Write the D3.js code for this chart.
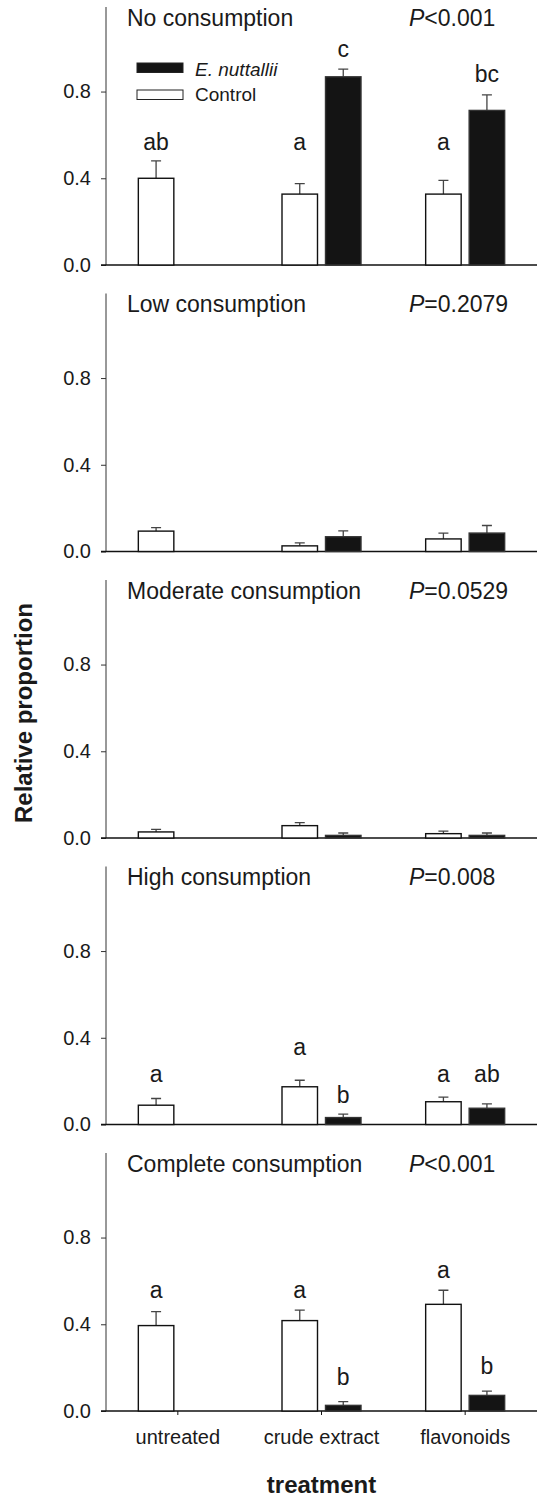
<!DOCTYPE html>
<html>
<head>
<meta charset="utf-8">
<script src="https://cdn.jsdelivr.net/npm/d3@7"></script>
<style>
  body { margin: 0; background: #fff; }
  svg text { font-family: 'Liberation Sans', Arial, sans-serif; fill: #1a1a1a; }
</style>
</head>
<body>
<svg id="chart" width="537" height="1499"></svg>
<script>
const categories = ['untreated', 'crude extract', 'flavonoids'];
const groups = ['Control', 'E. nuttallii'];
const panelTitles = ['No consumption', 'Low consumption', 'Moderate consumption', 'High consumption', 'Complete consumption'];
const pSigns = ['<', '=', '=', '=', '<'];
const pValues = ['0.001', '0.2079', '0.0529', '0.008', '0.001'];
const yTicks = [0, 0.4, 0.8];

// means and upper standard errors, one row per panel
const controlMean = [
  [0.40, 0.327, 0.327],
  [0.094, 0.026, 0.058],
  [0.028, 0.057, 0.020],
  [0.089, 0.174, 0.105],
  [0.394, 0.417, 0.492]
];
const controlErr = [
  [0.080, 0.048, 0.063],
  [0.016, 0.014, 0.027],
  [0.012, 0.014, 0.012],
  [0.031, 0.030, 0.021],
  [0.064, 0.048, 0.065]
];
const nuttalliiMean = [
  [null, 0.868, 0.713],
  [null, 0.068, 0.085],
  [null, 0.012, 0.012],
  [null, 0.032, 0.075],
  [null, 0.026, 0.072]
];
const nuttalliiErr = [
  [null, 0.035, 0.072],
  [null, 0.027, 0.035],
  [null, 0.011, 0.011],
  [null, 0.016, 0.020],
  [null, 0.017, 0.020]
];

// significance letters and the value level they sit at
const controlLetters = [['ab', 'a', 'a'], [null, null, null], [null, null, null], ['a', 'a', 'a'], ['a', 'a', 'a']];
const controlLetterAt = [[0.53, 0.53, 0.53], [0, 0, 0], [0, 0, 0], [0.196, 0.32, 0.196], [0.521, 0.521, 0.615]];
const nuttalliiLetters = [[null, 'c', 'bc'], [null, null, null], [null, null, null], [null, 'b', 'ab'], [null, 'b', 'b']];
const nuttalliiLetterAt = [[0, 0.961, 0.845], [0, 0, 0], [0, 0, 0], [0, 0.098, 0.196], [0, 0.12, 0.171]];

const svg = d3.select('#chart');
const axisX = 106;
const panelHeight = 258;
const panelStep = 286.5;
const firstTop = 7;

const x = d3.scaleBand().domain(categories).range([axisX, 537]);
const xSub = d3.scaleBand().domain(groups)
  .range([x.bandwidth() / 2 - 39.5, x.bandwidth() / 2 + 39.5])
  .paddingInner(8 / 43.5);
const y = d3.scaleLinear().domain([0, 1.19]).range([panelHeight, 0]);

function drawPanel(i) {
  const g = svg.append('g').attr('transform', 'translate(0,' + (firstTop + i * panelStep) + ')');

  const yAxis = d3.axisLeft(y).tickValues(yTicks).tickFormat(d3.format('.1f')).tickSize(5).tickPadding(10);
  const ya = g.append('g').attr('transform', 'translate(' + axisX + ',0)').call(yAxis);
  ya.select('.domain').attr('d', 'M0,0V' + panelHeight).attr('stroke', '#333').attr('stroke-width', 1);
  ya.selectAll('.tick line').attr('stroke', '#333');
  ya.selectAll('.tick text').attr('font-size', 20).attr('fill', '#1a1a1a').attr('font-family', "'Liberation Sans', Arial, sans-serif");

  g.append('line')
    .attr('x1', axisX - 5).attr('x2', 537)
    .attr('y1', y(0)).attr('y2', y(0))
    .attr('stroke', '#111').attr('stroke-width', 1.6);

  let rows = [];
  for (let c = 0; c < categories.length; c++) {
    rows.push({ cat: categories[c], group: 'Control', mean: controlMean[i][c], err: controlErr[i][c], letter: controlLetters[i][c], at: controlLetterAt[i][c] });
    rows.push({ cat: categories[c], group: 'E. nuttallii', mean: nuttalliiMean[i][c], err: nuttalliiErr[i][c], letter: nuttalliiLetters[i][c], at: nuttalliiLetterAt[i][c] });
  }
  rows = rows.filter((d) => d.mean !== null);
  const cx = (d) => x(d.cat) + xSub(d.group) + xSub.bandwidth() / 2;

  g.selectAll('.err').data(rows).enter().append('path')
    .attr('d', (d) => 'M' + cx(d) + ',' + y(d.mean) + 'V' + y(d.mean + d.err) + 'M' + (cx(d) - 5) + ',' + y(d.mean + d.err) + 'H' + (cx(d) + 5))
    .attr('fill', 'none').attr('stroke', '#444').attr('stroke-width', 1.3);

  g.selectAll('.bar').data(rows).enter().append('rect')
    .attr('x', (d) => x(d.cat) + xSub(d.group))
    .attr('y', (d) => y(d.mean))
    .attr('width', xSub.bandwidth())
    .attr('height', (d) => y(0) - y(d.mean))
    .attr('fill', (d) => (d.group === 'Control' ? '#fff' : '#141414'))
    .attr('stroke', (d) => (d.group === 'Control' ? '#111' : '#333'))
    .attr('stroke-width', 1.4);

  g.selectAll('.letter').data(rows.filter((d) => d.letter)).enter().append('text')
    .attr('x', cx).attr('y', (d) => y(d.at))
    .attr('text-anchor', 'middle').attr('font-size', 23)
    .text((d) => d.letter);

  g.append('text').attr('x', 127).attr('y', 18.5).attr('font-size', 23).text(panelTitles[i]);
  const p = g.append('text').attr('x', 409).attr('y', 18.5).attr('font-size', 23);
  p.append('tspan').attr('font-style', 'italic').text('P');
  p.append('tspan').text(pSigns[i] + pValues[i]);

  if (i === panelTitles.length - 1) {
    const xAxis = d3.axisBottom(x).tickSize(4).tickPadding(15);
    const xa = g.append('g').attr('transform', 'translate(0,' + y(0) + ')').call(xAxis);
    xa.select('.domain').remove();
    xa.selectAll('.tick line').attr('stroke', '#111');
    xa.selectAll('.tick text').attr('font-size', 20).attr('fill', '#1a1a1a').attr('font-family', "'Liberation Sans', Arial, sans-serif");
  }
}

for (let i = 0; i < panelTitles.length; i++) {
  drawPanel(i);
}

// legend in the first panel
const legend = svg.append('g').attr('transform', 'translate(137,63)');
const legendFill = ['#141414', '#fff'];
const legendOrder = ['E. nuttallii', 'Control'];
legendOrder.forEach(function (name, k) {
  legend.append('rect').attr('x', 0).attr('y', k * 27).attr('width', 46).attr('height', 9.5)
    .attr('fill', legendFill[k]).attr('stroke', '#222').attr('stroke-width', 1);
  legend.append('text').attr('x', 58).attr('y', k * 24.5 + 13).attr('font-size', 19)
    .attr('font-style', k === 0 ? 'italic' : 'normal').text(name);
});

svg.append('text')
  .attr('transform', 'translate(32,713) rotate(-90)')
  .attr('text-anchor', 'middle').attr('font-size', 24).attr('font-weight', 'bold')
  .text('Relative proportion');

svg.append('text')
  .attr('x', x('crude extract') + x.bandwidth() / 2).attr('y', 1493)
  .attr('text-anchor', 'middle').attr('font-size', 24).attr('font-weight', 'bold')
  .text('treatment');
</script>
</body>
</html>
